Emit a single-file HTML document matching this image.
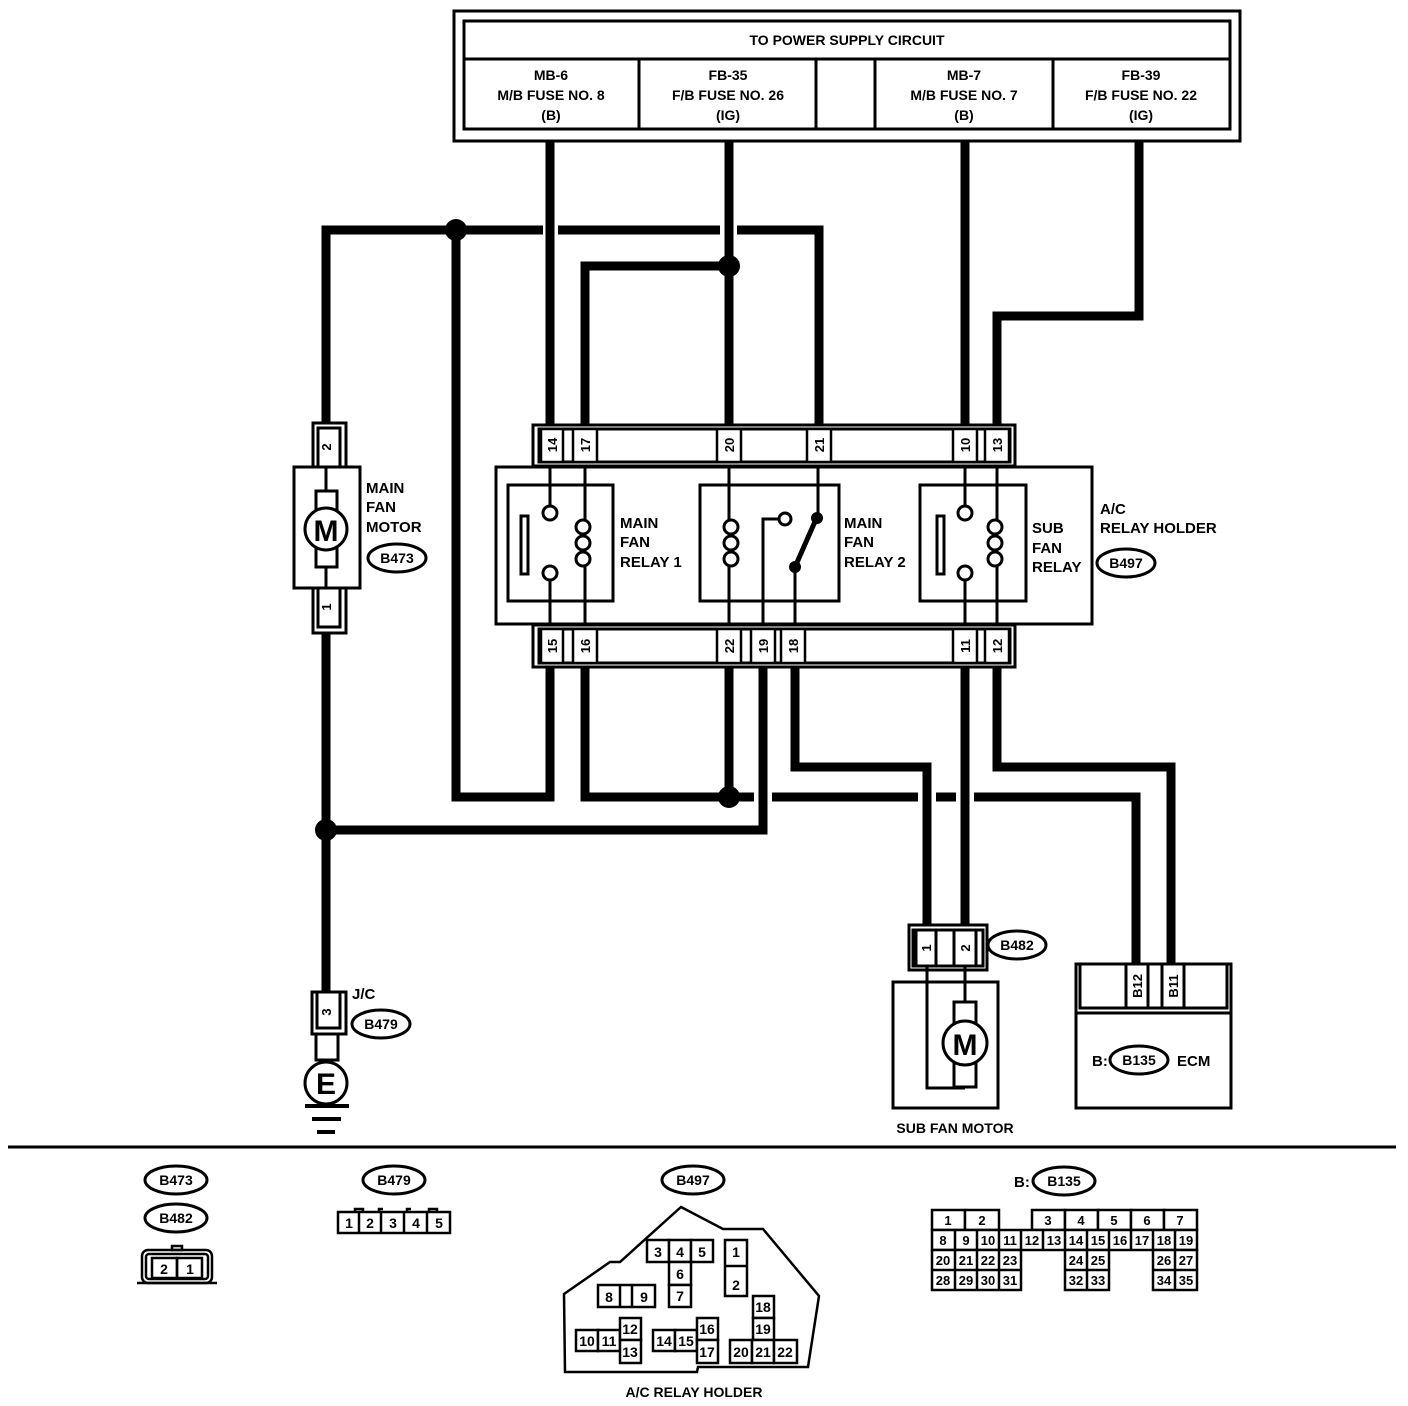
<!DOCTYPE html>
<html><head><meta charset="utf-8"><style>
html,body{margin:0;padding:0;background:#fff}
svg{display:block}
text{font-family:"Liberation Sans",Arial,sans-serif;font-weight:bold;fill:#000}
</style></head><body>
<svg width="1408" height="1406" viewBox="0 0 1408 1406" xmlns="http://www.w3.org/2000/svg">
<g fill="none" stroke="#000">
<rect x="454" y="11" width="786" height="130" stroke-width="3"/>
<rect x="464" y="21" width="766" height="108" stroke-width="3"/>
<line x1="464" y1="59" x2="1230" y2="59" stroke-width="3"/>
<line x1="639" y1="59" x2="639" y2="129" stroke-width="3"/>
<line x1="816" y1="59" x2="816" y2="129" stroke-width="3"/>
<line x1="875" y1="59" x2="875" y2="129" stroke-width="3"/>
<line x1="1053" y1="59" x2="1053" y2="129" stroke-width="3"/>
</g>
<g font-size="14" text-anchor="middle">
<text x="847" y="45">TO POWER SUPPLY CIRCUIT</text>
<text x="551" y="80">MB-6</text><text x="551" y="100">M/B FUSE NO. 8</text><text x="551" y="120">(B)</text>
<text x="728" y="80">FB-35</text><text x="728" y="100">F/B FUSE NO. 26</text><text x="728" y="120">(IG)</text>
<text x="964" y="80">MB-7</text><text x="964" y="100">M/B FUSE NO. 7</text><text x="964" y="120">(B)</text>
<text x="1141" y="80">FB-39</text><text x="1141" y="100">F/B FUSE NO. 22</text><text x="1141" y="120">(IG)</text>
</g>
<g fill="none" stroke="#000" stroke-width="9" stroke-linejoin="miter" stroke-linecap="butt">
<path d="M550 141V428"/>
<path d="M729 141V428"/>
<path d="M585 428V266H729"/>
<path d="M965 141V428"/>
<path d="M1139 141V316H997V428"/>
<path d="M326 428V230H543"/>
<path d="M558 230H720"/>
<path d="M737 230H819V428"/>
<path d="M456 230V797H550V668"/>
<path d="M585 668V797H754"/>
<path d="M772 797H918"/>
<path d="M936 797H956"/>
<path d="M974 797H1136V963"/>
<path d="M729 668V797"/>
<path d="M763 668V830H326"/>
<path d="M795 668V767H927V925"/>
<path d="M965 668V925"/>
<path d="M997 668V767H1171V963"/>
<path d="M326 632V993"/>
</g>
<g fill="#000">
<circle cx="456" cy="230" r="11"/>
<circle cx="729" cy="266" r="11"/>
<circle cx="729" cy="797" r="11"/>
<circle cx="326" cy="830" r="11"/>
</g>
<g fill="#fff" stroke="#000" stroke-width="3">
<rect x="533" y="425" width="482" height="41"/>
<rect x="539" y="429" width="471" height="33"/>
<rect x="496" y="467" width="596" height="157"/>
<rect x="533" y="625" width="482" height="42"/>
<rect x="539" y="629" width="471" height="34"/>
</g>
<g fill="#fff" stroke="#000" stroke-width="2.5">
<rect x="541" y="429" width="22" height="33"/><rect x="573" y="429" width="24" height="33"/>
<rect x="717" y="429" width="24" height="33"/><rect x="807" y="429" width="24" height="33"/>
<rect x="953" y="429" width="24" height="33"/><rect x="985" y="429" width="24" height="33"/>
<rect x="541" y="629" width="22" height="34"/><rect x="573" y="629" width="24" height="34"/>
<rect x="717" y="629" width="24" height="34"/><rect x="751" y="629" width="24" height="34"/>
<rect x="781" y="629" width="24" height="34"/>
<rect x="953" y="629" width="24" height="34"/><rect x="985" y="629" width="24" height="34"/>
</g>
<g font-size="13">
<text transform="translate(557,445) rotate(-90)" text-anchor="middle">14</text>
<text transform="translate(590,445) rotate(-90)" text-anchor="middle">17</text>
<text transform="translate(734,445) rotate(-90)" text-anchor="middle">20</text>
<text transform="translate(824,445) rotate(-90)" text-anchor="middle">21</text>
<text transform="translate(970,445) rotate(-90)" text-anchor="middle">10</text>
<text transform="translate(1002,445) rotate(-90)" text-anchor="middle">13</text>
<text transform="translate(557,646) rotate(-90)" text-anchor="middle">15</text>
<text transform="translate(590,646) rotate(-90)" text-anchor="middle">16</text>
<text transform="translate(734,646) rotate(-90)" text-anchor="middle">22</text>
<text transform="translate(768,646) rotate(-90)" text-anchor="middle">19</text>
<text transform="translate(798,646) rotate(-90)" text-anchor="middle">18</text>
<text transform="translate(970,646) rotate(-90)" text-anchor="middle">11</text>
<text transform="translate(1002,646) rotate(-90)" text-anchor="middle">12</text>
</g>
<g fill="none" stroke="#000" stroke-width="3">
<rect x="508" y="485" width="105" height="116"/>
<rect x="700" y="485" width="139" height="116"/>
<rect x="920" y="485" width="106" height="116"/>
<path d="M550 466V505M550 580V624"/>
<circle cx="550" cy="513" r="7" fill="#fff"/><circle cx="550" cy="573" r="7" fill="#fff"/>
<rect x="521" y="516" width="7" height="58"/>
<path d="M585 466V520M585 566V624"/>
<circle cx="583" cy="527" r="7"/><circle cx="583" cy="543" r="7"/><circle cx="583" cy="559" r="7"/>
<path d="M729 466V520M729 566V624"/>
<circle cx="731" cy="527" r="7"/><circle cx="731" cy="543" r="7"/><circle cx="731" cy="559" r="7"/>
<path d="M763 624V519H778"/>
<circle cx="785" cy="519" r="6" fill="#fff"/>
<path d="M818 466V517M795 567V624"/>
<path d="M817 517L795 567" stroke-width="5"/>
<path d="M965 466V505M965 580V624"/>
<circle cx="965" cy="513" r="7" fill="#fff"/><circle cx="965" cy="573" r="7" fill="#fff"/>
<rect x="937" y="516" width="7" height="58"/>
<path d="M997 466V520M997 566V624"/>
<circle cx="995" cy="527" r="7"/><circle cx="995" cy="543" r="7"/><circle cx="995" cy="559" r="7"/>
</g>
<g fill="#000"><circle cx="817" cy="518" r="6"/><circle cx="795" cy="567" r="6"/></g>
<g font-size="15">
<text x="620" y="528">MAIN</text><text x="620" y="547">FAN</text><text x="620" y="567">RELAY 1</text>
<text x="844" y="528">MAIN</text><text x="844" y="547">FAN</text><text x="844" y="567">RELAY 2</text>
<text x="1032" y="533">SUB</text><text x="1032" y="553">FAN</text><text x="1032" y="572">RELAY</text>
<text x="1100" y="514">A/C</text><text x="1100" y="533">RELAY HOLDER</text>
<text x="366" y="493">MAIN</text><text x="366" y="512">FAN</text><text x="366" y="532">MOTOR</text>
<text x="352" y="999">J/C</text>
</g>
<g fill="#fff" stroke="#000" stroke-width="3">
<rect x="313" y="423" width="33" height="45"/><rect x="318" y="428" width="22" height="40"/>
<rect x="313" y="587" width="33" height="46"/><rect x="318" y="587" width="22" height="40"/>
<rect x="294" y="467" width="66" height="121"/>
<path d="M326 467V491M326 567V588" fill="none"/>
<rect x="316" y="491" width="21" height="76"/>
<circle cx="326" cy="529" r="21"/>
</g>
<text x="326" y="541" font-size="30" text-anchor="middle">M</text>
<text transform="translate(331,447) rotate(-90)" font-size="13" text-anchor="middle">2</text>
<text transform="translate(331,607) rotate(-90)" font-size="13" text-anchor="middle">1</text>
<g fill="#fff" stroke="#000" stroke-width="3">
<rect x="312" y="992" width="34" height="42"/><rect x="317" y="992" width="23" height="36"/>
<rect x="316" y="1034" width="22" height="26"/>
<circle cx="326" cy="1083" r="21"/>
</g>
<text x="326" y="1094" font-size="30" text-anchor="middle">E</text>
<text transform="translate(331,1012) rotate(-90)" font-size="13" text-anchor="middle">3</text>
<g stroke="#000" stroke-width="4"><line x1="305" y1="1106" x2="349" y2="1106"/><line x1="312" y1="1119" x2="341" y2="1119"/><line x1="317" y1="1132" x2="335" y2="1132"/></g>
<g fill="#fff" stroke="#000" stroke-width="3">
<rect x="909" y="925" width="78" height="45"/>
<rect x="913" y="930" width="70" height="36"/>
<rect x="916" y="930" width="20" height="36"/><rect x="954" y="930" width="22" height="36"/>
<rect x="893" y="982" width="105" height="126"/>
<path d="M927 966V1088H965M965 966V1002" fill="none"/>
<rect x="954" y="1002" width="22" height="85"/>
<circle cx="965" cy="1043" r="22"/>
</g>
<text x="965" y="1055" font-size="30" text-anchor="middle">M</text>
<text transform="translate(931,948) rotate(-90)" font-size="13" text-anchor="middle">1</text>
<text transform="translate(970,948) rotate(-90)" font-size="13" text-anchor="middle">2</text>
<text x="955" y="1133" font-size="14" text-anchor="middle">SUB FAN MOTOR</text>
<g fill="#fff" stroke="#000" stroke-width="3">
<rect x="1076" y="964" width="155" height="144"/>
<rect x="1080" y="964" width="147" height="44"/>
<line x1="1076" y1="1013" x2="1231" y2="1013"/>
<rect x="1126" y="964" width="22" height="44"/><rect x="1162" y="964" width="22" height="44"/>
</g>
<text transform="translate(1142,986) rotate(-90)" font-size="13" text-anchor="middle">B12</text>
<text transform="translate(1178,986) rotate(-90)" font-size="13" text-anchor="middle">B11</text>
<text x="1092" y="1066" font-size="15">B:</text>
<text x="1177" y="1066" font-size="15">ECM</text>
<g fill="#fff" stroke="#000" stroke-width="3">
<ellipse cx="397" cy="558" rx="29" ry="14"/>
<ellipse cx="1126" cy="563" rx="29" ry="14"/>
<ellipse cx="381" cy="1024" rx="29" ry="14"/>
<ellipse cx="1017" cy="945" rx="29" ry="14"/>
<ellipse cx="1139" cy="1060" rx="29" ry="14"/>
<ellipse cx="176" cy="1180" rx="31" ry="14"/>
<ellipse cx="176" cy="1218" rx="31" ry="14"/>
<ellipse cx="394" cy="1180" rx="31" ry="14"/>
<ellipse cx="693" cy="1180" rx="31" ry="14"/>
<ellipse cx="1064" cy="1181" rx="31" ry="14"/>
</g>
<g font-size="14" text-anchor="middle">
<text x="397" y="563">B473</text><text x="1126" y="568">B497</text><text x="381" y="1029">B479</text>
<text x="1017" y="950">B482</text><text x="1139" y="1065">B135</text>
<text x="176" y="1185">B473</text><text x="176" y="1223">B482</text><text x="394" y="1185">B479</text>
<text x="693" y="1185">B497</text><text x="1064" y="1186">B135</text>
</g>
<line x1="8" y1="1147" x2="1396" y2="1147" stroke="#000" stroke-width="3"/>
<g fill="none" stroke="#000" stroke-width="2.5">
<path d="M172 1250h10v-4h-10z"/>
<rect x="142" y="1250" width="70" height="33" rx="6"/>
<rect x="146" y="1254" width="62" height="25" rx="3"/>
<rect x="152" y="1258" width="25" height="20"/><rect x="177" y="1258" width="25" height="20"/>
<path d="M137 1283h80"/>
</g>
<g font-size="14" text-anchor="middle"><text x="164" y="1274">2</text><text x="190" y="1274">1</text></g>
<g fill="none" stroke="#000" stroke-width="2.5">
<rect x="338" y="1212" width="112" height="21"/>
<line x1="359" y1="1212" x2="359" y2="1233"/><line x1="381" y1="1212" x2="381" y2="1233"/>
<line x1="404" y1="1212" x2="404" y2="1233"/><line x1="427" y1="1212" x2="427" y2="1233"/>
<path d="M355 1212v-3h8v3M379 1212v-3h4M407 1212v-3h4M429 1212v-3h8v3"/>
</g>
<g font-size="14" text-anchor="middle"><text x="349" y="1228">1</text><text x="370" y="1228">2</text><text x="393" y="1228">3</text><text x="416" y="1228">4</text><text x="439" y="1228">5</text></g>
<polygon points="681,1207 723,1229 763,1229 819,1296 808,1367 698,1367 697,1372 565,1372 564,1294 610,1262 620,1262" fill="none" stroke="#000" stroke-width="2.5"/>
<g fill="#fff" stroke="#000" stroke-width="2.5">
<rect x="647" y="1240" width="22" height="22"/><rect x="669" y="1240" width="22" height="22"/><rect x="691" y="1240" width="22" height="22"/>
<rect x="669" y="1262" width="22" height="23"/><rect x="669" y="1285" width="22" height="22"/>
<rect x="725" y="1240" width="22" height="56"/><line x1="725" y1="1266" x2="747" y2="1266"/>
<rect x="598" y="1285" width="57" height="22"/><line x1="620" y1="1285" x2="620" y2="1307"/><line x1="632" y1="1285" x2="632" y2="1307"/>
<rect x="576" y="1330" width="22" height="21"/><rect x="598" y="1330" width="22" height="21"/>
<rect x="620" y="1318" width="21" height="22"/><rect x="620" y="1340" width="21" height="23"/>
<rect x="653" y="1330" width="22" height="21"/><rect x="675" y="1330" width="22" height="21"/>
<rect x="697" y="1318" width="21" height="22"/><rect x="697" y="1340" width="21" height="23"/>
<rect x="753" y="1296" width="21" height="22"/><rect x="753" y="1318" width="21" height="22"/>
<rect x="730" y="1340" width="22" height="23"/><rect x="752" y="1340" width="22" height="23"/><rect x="774" y="1340" width="23" height="23"/>
</g>
<g font-size="14" text-anchor="middle">
<text x="658" y="1257">3</text><text x="680" y="1257">4</text><text x="702" y="1257">5</text>
<text x="680" y="1279">6</text><text x="680" y="1301">7</text>
<text x="736" y="1257">1</text><text x="736" y="1290">2</text>
<text x="609" y="1302">8</text><text x="644" y="1302">9</text>
<text x="587" y="1346">10</text><text x="609" y="1346">11</text><text x="630" y="1334">12</text><text x="630" y="1357">13</text>
<text x="664" y="1346">14</text><text x="686" y="1346">15</text><text x="707" y="1334">16</text><text x="707" y="1357">17</text>
<text x="763" y="1312">18</text><text x="763" y="1334">19</text>
<text x="741" y="1357">20</text><text x="763" y="1357">21</text><text x="785" y="1357">22</text>
<text x="694" y="1397">A/C  RELAY HOLDER</text>
</g>
<text x="1014" y="1187" font-size="15">B:</text>
<g fill="#fff" stroke="#000" stroke-width="2.5">
<rect x="932" y="1210" width="33" height="20"/><rect x="965" y="1210" width="34" height="20"/>
<rect x="1032" y="1210" width="33" height="20"/><rect x="1065" y="1210" width="33" height="20"/><rect x="1098" y="1210" width="33" height="20"/><rect x="1131" y="1210" width="33" height="20"/><rect x="1164" y="1210" width="33" height="20"/>
<rect x="932" y="1230" width="265" height="20"/>
<rect x="932" y="1250" width="89" height="40"/>
<rect x="1065" y="1250" width="44" height="40"/>
<rect x="1153" y="1250" width="44" height="40"/>
<path d="M955 1230v60M977 1230v60M999 1230v60M1021 1230v20M1043 1230v20M1065 1230v20M1087 1230v60M1109 1230v20M1131 1230v20M1153 1230v20M1175 1230v60M932 1270h89M1065 1270h44M1153 1270h44" fill="none"/>
</g>
<g font-size="13" text-anchor="middle">
<text x="948" y="1225">1</text><text x="982" y="1225">2</text><text x="1048" y="1225">3</text><text x="1081" y="1225">4</text><text x="1114" y="1225">5</text><text x="1147" y="1225">6</text><text x="1180" y="1225">7</text>
<text x="943" y="1245">8</text><text x="966" y="1245">9</text><text x="988" y="1245">10</text><text x="1010" y="1245">11</text><text x="1032" y="1245">12</text><text x="1054" y="1245">13</text><text x="1076" y="1245">14</text><text x="1098" y="1245">15</text><text x="1120" y="1245">16</text><text x="1142" y="1245">17</text><text x="1164" y="1245">18</text><text x="1186" y="1245">19</text>
<text x="943" y="1265">20</text><text x="966" y="1265">21</text><text x="988" y="1265">22</text><text x="1010" y="1265">23</text><text x="1076" y="1265">24</text><text x="1098" y="1265">25</text><text x="1164" y="1265">26</text><text x="1186" y="1265">27</text>
<text x="943" y="1285">28</text><text x="966" y="1285">29</text><text x="988" y="1285">30</text><text x="1010" y="1285">31</text><text x="1076" y="1285">32</text><text x="1098" y="1285">33</text><text x="1164" y="1285">34</text><text x="1186" y="1285">35</text>
</g>
</svg>
</body></html>
